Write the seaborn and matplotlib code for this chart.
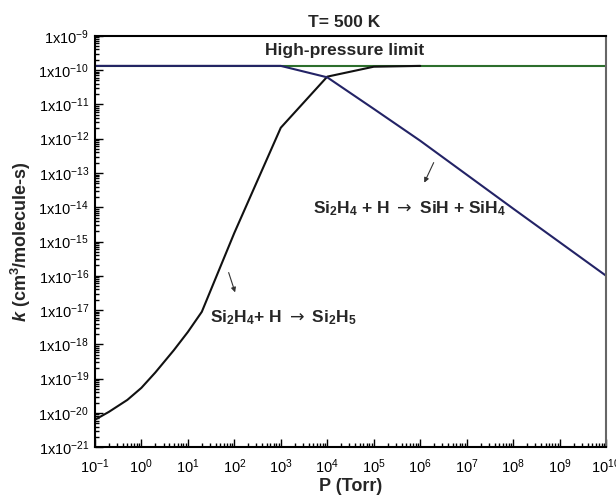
import numpy as np
import pandas as pd
import matplotlib
matplotlib.use("Agg")
import matplotlib.pyplot as plt
import seaborn as sns
from matplotlib.ticker import LogLocator, FuncFormatter, NullFormatter

# Rate constants k (cm^3/molecule-s) vs pressure P (Torr), T = 500 K, stored as log10(k)
p_limit = [1e-1, 1e10]
logk_limit = [-9.876, -9.876]

p_si2h5 = [0.1, 0.2, 0.5, 1, 2, 5, 10, 20, 100, 1e3, 1e4, 1e5, 1e6]
logk_si2h5 = [-20.2, -19.97, -19.62, -19.27, -18.82, -18.17, -17.64, -17.05,
              -14.75, -11.68, -10.19, -9.90, -9.876]

p_sih = [0.1, 1e3, 1e4, 1e5, 1e6, 1e7, 1e8, 1e9, 1e10]
logk_sih = [-9.876, -9.876, -10.21, -11.13, -12.06, -13.05, -14.04, -15.02, -16.0]

sns.set_theme(style="ticks")
plt.rcParams["font.family"] = ["Liberation Sans", "DejaVu Sans"]
plt.rcParams["mathtext.fontset"] = "custom"
plt.rcParams["mathtext.rm"] = "Liberation Sans"
plt.rcParams["mathtext.it"] = "Liberation Sans:italic:bold"
plt.rcParams["mathtext.bf"] = "Liberation Sans:bold"
plt.rcParams["mathtext.sf"] = "DejaVu Sans"
plt.rcParams["mathtext.default"] = "regular"
plt.rcParams["axes.unicode_minus"] = False

fig = plt.figure(figsize=(6.16, 4.98), dpi=100)
ax = fig.add_axes([0.154, 0.102, 0.830, 0.826])
ax.set_xscale("log")
ax.set_yscale("log")

GREEN = "#2c6e2c"
NAVY = "#232366"
BLACK = "#111111"

sns.lineplot(x=p_limit, y=10 ** np.array(logk_limit), ax=ax, color=GREEN,
             lw=1.5, estimator=None, sort=False)
sns.lineplot(x=p_si2h5, y=10 ** np.array(logk_si2h5), ax=ax, color=BLACK,
             lw=1.5, estimator=None, sort=False)
sns.lineplot(x=p_sih, y=10 ** np.array(logk_sih), ax=ax, color=NAVY,
             lw=1.5, estimator=None, sort=False)

ax.set_xlim(1e-1, 1e10)
ax.set_ylim(1e-21, 1e-9)

ax.xaxis.set_major_locator(LogLocator(base=10, numticks=30))
ax.xaxis.set_minor_locator(LogLocator(base=10, subs=np.arange(2, 10), numticks=300))
ax.yaxis.set_major_locator(LogLocator(base=10, numticks=30))
ax.yaxis.set_minor_locator(LogLocator(base=10, subs=np.arange(2, 10), numticks=300))
ax.xaxis.set_minor_formatter(NullFormatter())
ax.yaxis.set_minor_formatter(NullFormatter())
ax.xaxis.set_major_formatter(FuncFormatter(
    lambda v, pos: f"10$^{{{int(round(np.log10(v)))}}}$"))
ax.yaxis.set_major_formatter(FuncFormatter(
    lambda v, pos: f"1x10$^{{{int(round(np.log10(v)))}}}$"))

ax.tick_params(which="both", direction="in", top=False, right=False,
               colors="black", labelsize=10.5, width=1.0)
ax.tick_params(which="major", length=6)
ax.tick_params(which="minor", length=3)
ax.tick_params(axis="x", pad=7)
ax.tick_params(axis="y", pad=4)

for side in ["top", "left", "bottom"]:
    ax.spines[side].set_color("black")
    ax.spines[side].set_linewidth(1.5)
ax.spines["right"].set_color("#666666")
ax.spines["right"].set_linewidth(1.5)

ax.set_xlabel("P (Torr)", fontsize=13, fontweight="bold", labelpad=2)
ax.set_ylabel(r"$\mathit{k}$ (cm$^{3}$/molecule-s)", fontsize=13,
              fontweight="bold", labelpad=4)

ax.text(0.488, 1.022, "T= 500 K", transform=ax.transAxes, ha="center",
        va="baseline", fontsize=12.5, fontweight="bold")
ax.text(0.489, 0.954, "High-pressure limit", transform=ax.transAxes,
        ha="center", va="baseline", fontsize=12.5, fontweight="bold")

ax.text(0.427, 0.569, r"Si$_{2}$H$_{4}$ + H $\mathsf{\rightarrow}$ SiH + SiH$_{4}$",
        transform=ax.transAxes, ha="left", va="baseline", fontsize=12.5,
        fontweight="bold")
ax.annotate("", xy=(0.642, 0.637), xytext=(0.665, 0.698),
            xycoords="axes fraction", textcoords="axes fraction",
            arrowprops=dict(arrowstyle="-|>", lw=0.8, color="#333333",
                            mutation_scale=7))

ax.text(0.225, 0.304, r"Si$_{2}$H$_{4}$+ H $\mathsf{\rightarrow}$ Si$_{2}$H$_{5}$",
        transform=ax.transAxes, ha="left", va="baseline", fontsize=12.5,
        fontweight="bold")
ax.annotate("", xy=(0.276, 0.370), xytext=(0.260, 0.431),
            xycoords="axes fraction", textcoords="axes fraction",
            arrowprops=dict(arrowstyle="-|>", lw=0.8, color="#333333",
                            mutation_scale=7))

fig.savefig("out.png", dpi=100)
